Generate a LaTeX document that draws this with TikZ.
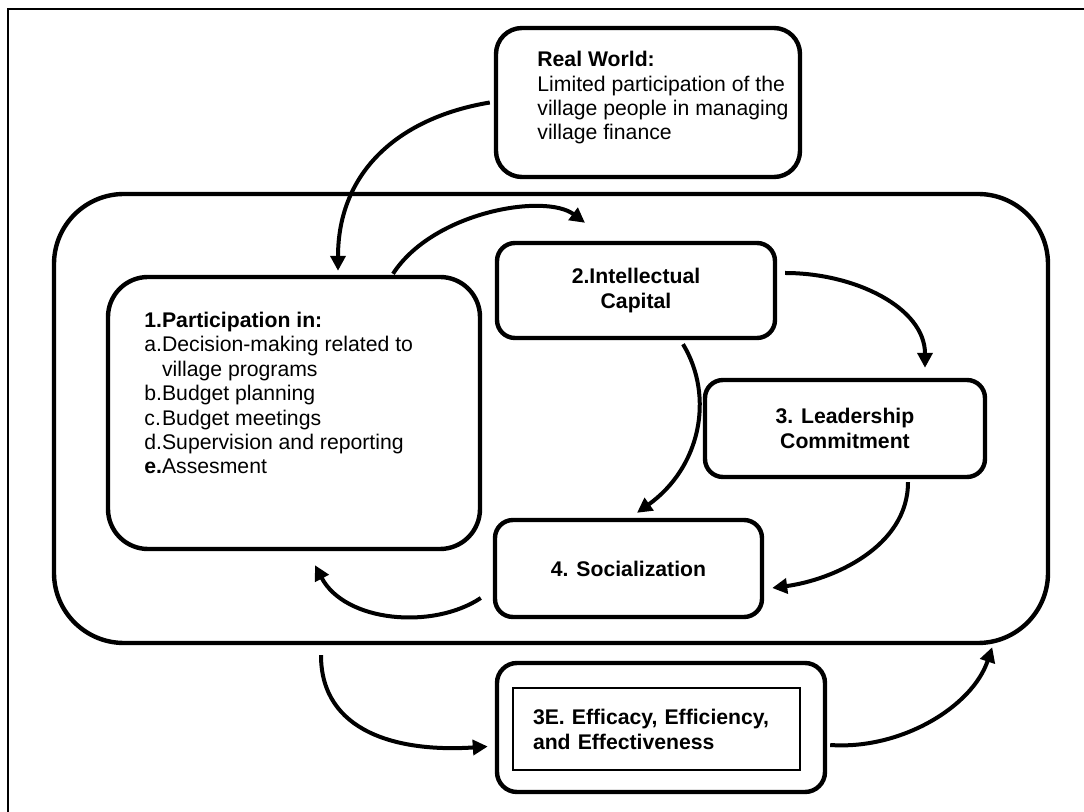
\documentclass[tikz,border=0pt]{standalone}
\usepackage{fontspec}
\setmainfont{Liberation Sans}
\usepackage{tikz}
\usetikzlibrary{arrows.meta,positioning,calc}
\tikzset{
    frame line/.style={line width=1.2pt},
    box/.style={draw, line width=2.2pt, rounded corners=#1, inner sep=0pt},
    box/.default=9pt,
    thin box/.style={draw, line width=0.7pt, inner ysep=0pt},
    label text/.style={inner sep=0pt, anchor=north west, align=left},
    bold text/.style={font=\fontsize{10.6}{12.2}\selectfont\bfseries},
    arr/.style={-{Triangle[length=7.5pt,width=7.5pt]}, line width=2pt},
}
\tikzstyle{every node}=[font=\fontsize{10.6}{12.2}\selectfont]

\begin{document}
\begin{tikzpicture}[x=0.5pt, y=-0.5pt]
    \useasboundingbox (0,0) rectangle (1084,812);
    \draw[frame line] (8,812) -- (8,9) -- (1084,9);

    % the loop and its boxes
    \node[box=35pt, minimum width=497pt, minimum height=224.5pt] (loop) at (551,418.5) {};

    \node[box=13pt, minimum width=152pt, minimum height=74.5pt] (world) at (648,102.5) {};
    \node[label text] (world text) at (537,51)
        {\textbf{Real World:}\\Limited participation of the\\village people in managing\\village finance};

    \node[box=20pt, minimum width=186pt, minimum height=136pt] (part) at (294,413) {};
    \node[label text] (part text) at (144,310) {%
        \begin{tabular}{@{}l@{}l@{}}
            \multicolumn{2}{@{}l@{}}{\textbf{1.Participation in:}}\\
            a.&Decision-making related to\\
            &village programs\\
            b.&Budget planning\\
            c.&Budget meetings\\
            d.&Supervision and reporting\\
            \textbf{e.}&Assesment
        \end{tabular}};

    \node[box, bold text, align=center, minimum width=139pt, minimum height=47.5pt] (capital) at (636,290.5)
        {2.Intellectual\\Capital};
    \node[box, bold text, align=center, minimum width=140pt, minimum height=48.5pt] (lead) at (845,428.5)
        {3. Leadership\\Commitment};
    \node[box, bold text, minimum width=133.5pt, minimum height=48.5pt] (soc) at (628.5,568.5)
        {4. Socialization};

    \node[box=10pt, minimum width=164pt, minimum height=64.5pt] (ee) at (661,727.5) {};
    \node[thin box, font=\fontsize{10.6}{12.5}\selectfont\bfseries, align=left, text width=123.5pt,
        inner xsep=10pt, minimum height=41pt] (ee inner) at (656.5,729)
        {3E. Efficacy, Efficiency,\\and Effectiveness};

    % connectors
    \draw[arr] ($(world.west)+(-4,0)$) .. controls +(-90,15) and +(0,-100) .. ($(part.north)+(44,-4)$);
    \draw[arr] ($(part.north)+(99,-1)$) .. controls +(40,-62) and +(-40,-30) .. ($(capital.north)+(-51,-18)$);
    \draw[arr] ($(capital.east)+(8,-17.5)$) .. controls +(70,0) and +(0,-60) .. ($(lead.north)+(80,-10)$);
    \draw[arr] ($(capital.south)+(47,4)$) .. controls +(32,53) and +(63,-45) .. ($(soc.north)+(8.5,-5)$);
    \draw[arr] ($(lead.south)+(63,3)$) .. controls +(0,65) and +(60,-8) .. ($(soc.east)+(8,19.5)$);
    \draw[arr] ($(soc.west)+(-12,29.5)$) .. controls +(-48,32) and +(30,57) .. ($(part.south)+(21,14)$);
    \draw[arr] ($(loop.south)+(-230,10)$) .. controls +(0,77) and +(-90,6) .. ($(ee.west)+(-7,19)$);
    \draw[arr] ($(ee.east)+(3,17.5)$) .. controls +(70,5) and +(-20,60) .. ($(loop.south east)+(-58,2)$);
\end{tikzpicture}
\end{document}
